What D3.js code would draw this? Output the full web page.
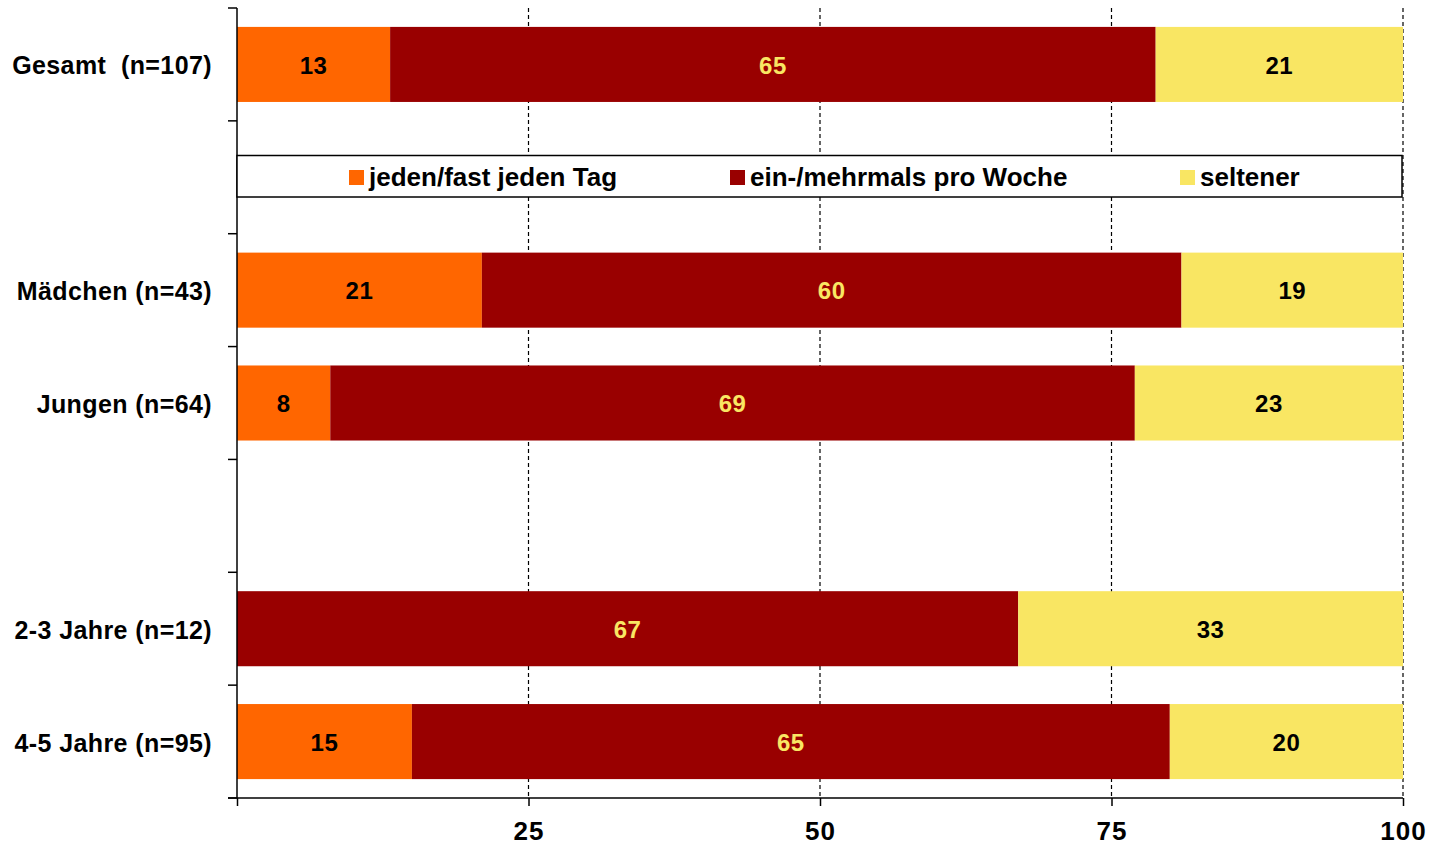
<!DOCTYPE html>
<html lang="de">
<head>
    <meta charset="UTF-8">
    <title>Häufigkeit nach Gruppen</title>
    <script src="https://d3js.org/d3.v7.min.js"></script>
    <style>
        body { margin: 0; background: #fff; }
        text { font-family: "Liberation Sans", Arial, sans-serif; font-weight: bold; }
    </style>
</head>
<body>
 <div id="mainbody"></div>
 <script>

    // rows of the chart; "_legend" and "_gap" are empty slots in the band layout
    const rows = ["Gesamt  (n=107)", "_legend", "Mädchen (n=43)", "Jungen (n=64)", "_gap", "2-3 Jahre (n=12)", "4-5 Jahre (n=95)"];
    const groups = ["Gesamt  (n=107)", "Mädchen (n=43)", "Jungen (n=64)", "2-3 Jahre (n=12)", "4-5 Jahre (n=95)"];
    const seriesNames = ["jeden/fast jeden Tag", "ein-/mehrmals pro Woche", "seltener"];
    const daily  = [13, 21, 8, 0, 15];
    const weekly = [65, 60, 69, 67, 65];
    const rarely = [21, 19, 23, 33, 20];
    const tickValues = [0, 25, 50, 75, 100];
    const colors = ["#ff6600", "#990000", "#f9e663"];
    const labelColors = ["#000", "#f9e663", "#000"];

    const W = 1432, H = 845;
    const plotLeft = 237, plotRight = 1403, plotTop = 8, plotBottom = 798;

    const table = groups.map((g, i) => ({group: g, s0: daily[i], s1: weekly[i], s2: rarely[i]}));
    const stack = d3.stack().keys(["s0", "s1", "s2"]).offset(d3.stackOffsetExpand);
    const stacked = stack(table);

    const svg = d3.select("#mainbody").append("svg")
        .attr("width", W)
        .attr("height", H);

    const x = d3.scaleLinear().domain([0, 100]).range([plotLeft, plotRight]);
    const y = d3.scaleBand().domain(rows).range([plotTop, plotBottom])
        .paddingInner(0.335).paddingOuter(0.335 / 2);

    // dashed grid lines
    svg.append("g").selectAll("line")
        .data(tickValues.slice(1))
        .enter().append("line")
        .attr("x1", d => x(d)).attr("x2", d => x(d))
        .attr("y1", plotTop).attr("y2", plotBottom)
        .attr("stroke", "#000")
        .attr("stroke-width", 1.2)
        .attr("stroke-dasharray", "4,3");

    // bars
    const layer = svg.append("g").selectAll("g")
        .data(stacked)
        .enter().append("g")
        .attr("fill", (d, i) => colors[i]);

    layer.selectAll("rect")
        .data(d => d)
        .enter().append("rect")
        .attr("x", d => x(d[0] * 100))
        .attr("width", d => x(d[1] * 100) - x(d[0] * 100))
        .attr("y", d => y(d.data.group))
        .attr("height", y.bandwidth());

    // value labels
    stacked.forEach((s, si) => {
        svg.append("g").selectAll("text")
            .data(s.filter(d => d.data[s.key] > 0))
            .enter().append("text")
            .attr("x", d => x((d[0] + d[1]) / 2 * 100))
            .attr("y", d => y(d.data.group) + y.bandwidth() / 2)
            .attr("dy", "0.38em")
            .attr("text-anchor", "middle")
            .attr("font-size", 24)
            .attr("letter-spacing", 0.5)
            .attr("fill", labelColors[si])
            .text(d => d.data[s.key]);
    });

    // y axis
    const yAxis = svg.append("g");
    yAxis.append("line")
        .attr("x1", plotLeft).attr("x2", plotLeft)
        .attr("y1", plotTop).attr("y2", plotBottom)
        .attr("stroke", "#000").attr("stroke-width", 1.5);
    const boundaries = d3.range(rows.length + 1).map(i => plotTop + i * y.step());
    yAxis.selectAll(".ytick")
        .data(boundaries)
        .enter().append("line")
        .attr("class", "ytick")
        .attr("x1", plotLeft - 9).attr("x2", plotLeft)
        .attr("y1", d => d).attr("y2", d => d)
        .attr("stroke", "#000").attr("stroke-width", 1.5);
    yAxis.selectAll(".ylabel")
        .data(groups)
        .enter().append("text")
        .attr("class", "ylabel")
        .attr("x", 212)
        .attr("y", d => y(d) + y.bandwidth() / 2)
        .attr("dy", "0.4em")
        .attr("text-anchor", "end")
        .attr("font-size", 25)
        .attr("letter-spacing", 0.4)
        .style("white-space", "pre")
        .text(d => d);

    // x axis
    const xAxis = svg.append("g")
        .attr("transform", `translate(0,${plotBottom})`)
        .call(d3.axisBottom(x).tickValues(tickValues).tickSize(8).tickPadding(16)
            .tickFormat(d => d === 0 ? "" : d));
    xAxis.select(".domain").remove();
    xAxis.append("line")
        .attr("x1", plotLeft - 9).attr("x2", plotRight)
        .attr("stroke", "#000").attr("stroke-width", 1.5);
    xAxis.selectAll(".tick line").attr("stroke-width", 1.5);
    xAxis.selectAll(".tick text")
        .attr("font-size", 26)
        .attr("letter-spacing", 1)
        .attr("font-family", "Liberation Sans, Arial, sans-serif")
        .attr("font-weight", "bold")
        .attr("fill", "#000");

    // legend inside the empty band
    const lg = svg.append("g");
    lg.append("rect")
        .attr("x", plotLeft).attr("y", 155.5)
        .attr("width", 1402 - plotLeft).attr("height", 41.5)
        .attr("fill", "#fff")
        .attr("stroke", "#000").attr("stroke-width", 1.5);
    const legendX = [349, 730, 1180];
    seriesNames.forEach((name, i) => {
        lg.append("rect")
            .attr("x", legendX[i]).attr("y", 170)
            .attr("width", 15).attr("height", 15)
            .attr("fill", colors[i]);
        lg.append("text")
            .attr("x", legendX[i] + 20).attr("y", 177)
            .attr("dy", "0.36em")
            .attr("font-size", 26)
            .text(name);
    });

 </script>
</body>
</html>
